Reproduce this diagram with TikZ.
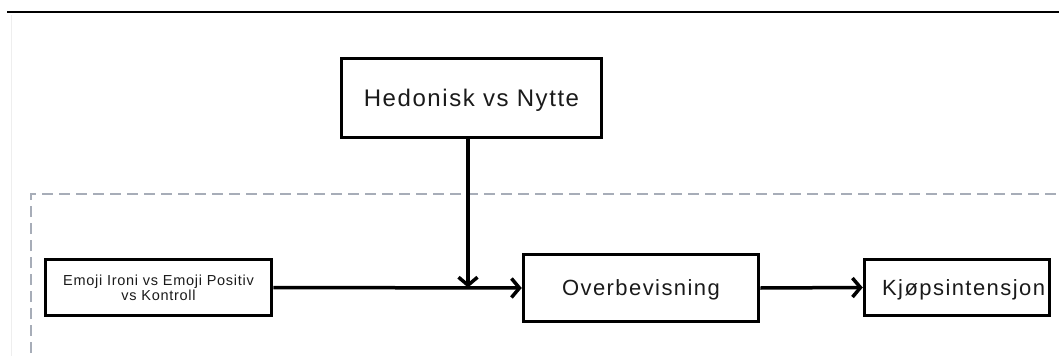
\documentclass[tikz,border=0pt]{standalone}
\usepackage{fontspec}
\setmainfont{Liberation Sans}
\newfontfamily\bigfont[LetterSpace=6.5]{Liberation Sans}
\newfontfamily\smallfont[LetterSpace=5]{Liberation Sans}
\usetikzlibrary{arrows.meta,calc}
\definecolor{ink}{HTML}{1A1A1A}
\definecolor{dashgray}{HTML}{A7ADB8}
\definecolor{faint}{HTML}{EEEEEE}
\tikzset{
  box/.style={draw=black, line width=3.5pt, inner sep=0pt, text=ink},
  bigbox/.style={box, text depth=0pt, font=\bigfont\fontsize{22}{26}\selectfont},
  headbox/.style={box, text depth=0pt, font=\bigfont\fontsize{24}{28}\selectfont},
  smallbox/.style={box, font=\smallfont\fontsize{14.5}{15}\selectfont, align=center},
  arr/.style={line width=3.5pt, -{Straight Barb[length=8pt,width=19pt,line width=3.5pt]}},
}
\begin{document}
\begin{tikzpicture}[x=1pt,y=-1pt]
  \useasboundingbox (0,0) rectangle (1059,356);
  % header rule and faint left margin line
  \draw[line width=2.5pt] (7,12) -- (1059,12);
  \draw[faint, line width=1pt] (11.5,15) -- (11.5,356);
  % dashed grouping frame
  \draw[dashgray, line width=2pt, dash pattern=on 11pt off 6pt]
    (31,370) -- (31,194) -- (1075,194);
  % boxes
  \node[headbox, minimum width=260pt, minimum height=79pt] (hed) at (471.5,98) {Hedonisk vs Nytte};
  \node[smallbox, minimum width=226pt, minimum height=56pt] (emo) at (158.5,287.5)
    {Emoji Ironi vs Emoji Positiv\\vs Kontroll};
  \node[bigbox, minimum width=235pt, minimum height=67pt] (ovb) at (641,288) {Overbevisning};
  \node[bigbox, text width=176pt, inner xsep=4.5pt, align=right, minimum height=56pt] (kjp)
    at (957,287.5) {Kjøpsintensjon};
  % connectors
  \draw[arr] (emo.east) -- (ovb.west);
  \draw[arr] (ovb.east) -- (kjp.west);
  \draw[arr] ([xshift=-3.5pt]hed.south) -- ([xshift=-3.5pt]hed.south |- emo.east);
\end{tikzpicture}
\end{document}
